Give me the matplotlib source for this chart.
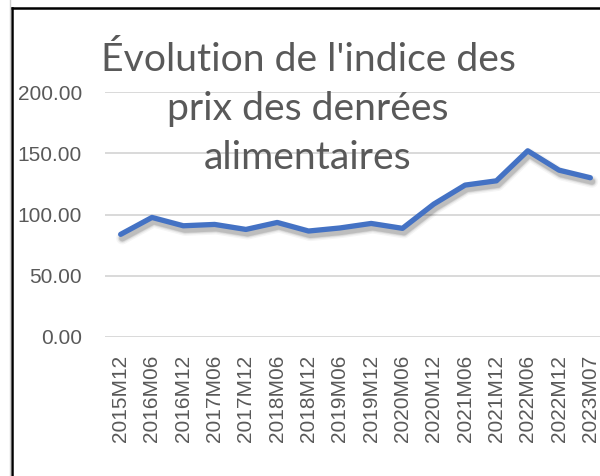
import matplotlib
matplotlib.use("Agg")
import matplotlib.pyplot as plt
import matplotlib.patheffects as pe
from matplotlib.lines import Line2D

categories = ["2015M12", "2016M06", "2016M12", "2017M06", "2017M12", "2018M06",
              "2018M12", "2019M06", "2019M12", "2020M06", "2020M12", "2021M06",
              "2021M12", "2022M06", "2022M12", "2023M07"]
values = [83.8, 97.6, 90.8, 91.9, 87.8, 93.5, 86.5, 89.0, 92.7, 88.7,
          108.5, 124.0, 127.5, 152.0, 136.2, 130.0]
yticks = [0, 50, 100, 150, 200]
title = "Évolution de l'indice des\nprix des denrées\nalimentaires"

W, H = 600, 476
fig = plt.figure(figsize=(W / 100, H / 100), dpi=100)
fig.patch.set_facecolor("white")

# axes placement in pixels
ax_left, ax_right = 105, 606
ax_bottom_px, ax_top_px = 337, 92
ax = fig.add_axes([ax_left / W, (H - ax_bottom_px) / H,
                   (ax_right - ax_left) / W, (ax_bottom_px - ax_top_px) / H])
ax.set_facecolor("none")

x = list(range(len(categories)))
shadow = [pe.SimpleLineShadow(offset=(1.2, -2.8), shadow_color="black",
                              alpha=a, rho=1, linewidth=lw)
          for lw, a in [(9, 0.04), (7, 0.06), (5.5, 0.08), (4.5, 0.10)]]
ax.plot(x, values, color="#4472C4", lw=3.8, solid_capstyle="round",
        solid_joinstyle="round", zorder=3,
        path_effects=shadow + [pe.Normal()])

ax.set_xlim(-0.5, len(categories) - 0.5)
ax.set_ylim(0, 200)
ax.set_yticks(yticks)
ax.set_yticklabels([f"{v:.2f}" for v in yticks])
ax.set_xticks(x)
ax.set_xticklabels(categories, rotation=90)
for v in yticks:
    ax.axhline(v, color="#D9D9D9", lw=1.4, zorder=1)
for s in ax.spines.values():
    s.set_visible(False)
ax.tick_params(axis="both", length=0, labelsize=15, labelcolor="#595959")
ax.tick_params(axis="y", pad=16.5)
ax.tick_params(axis="x", pad=13)
for lab in ax.get_xticklabels() + ax.get_yticklabels():
    lab.set_fontfamily("Liberation Sans")

fig.text(308 / W, 1 - 42 / H, title, ha="center", va="top", fontsize=28.2,
         color="#595959", family="Lato", linespacing=1.45)

# chart frame
fig.add_artist(Line2D([11.5 / W, 11.5 / W], [0, 1 - 7.5 / H], color="black", lw=1.8))
fig.add_artist(Line2D([11.5 / W, 1], [1 - 7.5 / H, 1 - 7.5 / H], color="black", lw=1.8))
fig.add_artist(Line2D([9.5 / W, 9.5 / W], [0, 1], color="#D0D0D0", lw=1))

fig.savefig("out.png", dpi=100)
